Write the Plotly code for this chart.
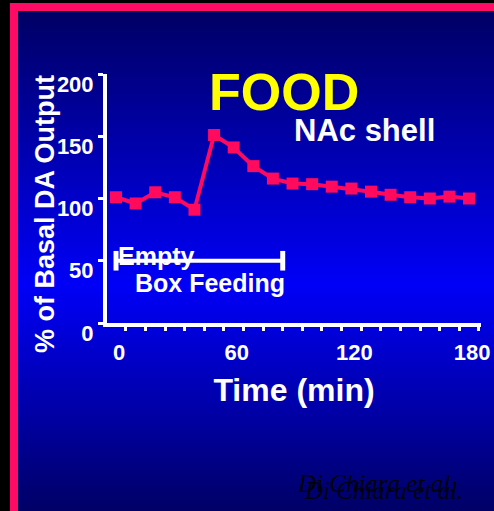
import plotly.graph_objects as go

# ---- data ----
time_min = [0, 10, 20, 30, 40, 50, 60, 70, 80, 90, 100, 110, 120, 130, 140, 150, 160, 170, 180]
da_output = [101, 96, 105, 101, 91, 151, 141, 126, 116, 112, 111.5, 109.5, 108, 105.5, 103, 101, 100, 101.5, 100]
feeding_x = [0, 85]
feeding_y = [50, 50]
x_tick_vals = [0, 60, 120, 180]
y_tick_vals = [0, 50, 100, 150, 200]

W, H = 494, 511
L, R, T, B = 107, 481, 74, 323


def px(x):
    return (x - L) / (R - L)


def py(y):
    return (B - y) / (B - T)


shapes = []
# gradient background (dark -> bright blue -> dark)
step = 3
for y0 in range(11, H, step):
    yc = y0 + step / 2
    if yc < 285:
        b = 100 + (yc - 11) / (285 - 11) * 148
    else:
        b = 248 - (yc - 285) / (H - 285) * 146
    b = int(max(0, min(255, b)))
    shapes.append(dict(type="rect", xref="paper", yref="paper", layer="below",
                       x0=px(18), x1=px(W + 2), y0=py(y0 + step + 0.5), y1=py(y0),
                       fillcolor="rgb(0,0,%d)" % b, line=dict(width=0)))
# pink frame
shapes.append(dict(type="rect", xref="paper", yref="paper", layer="below",
                   x0=px(10), x1=px(18), y0=py(H + 2), y1=py(3),
                   fillcolor="#ff0a64", line=dict(width=0)))
shapes.append(dict(type="rect", xref="paper", yref="paper", layer="below",
                   x0=px(10), x1=px(W + 2), y0=py(11), y1=py(3),
                   fillcolor="#ff0a64", line=dict(width=0)))

fig = go.Figure()
fig.add_trace(go.Scatter(
    x=feeding_x, y=feeding_y, mode="lines+markers",
    line=dict(color="white", width=4),
    marker=dict(symbol="line-ns", size=14, line=dict(color="white", width=5)),
    hoverinfo="skip", showlegend=False, cliponaxis=False))
fig.add_trace(go.Scatter(
    x=time_min, y=da_output, mode="lines+markers",
    line=dict(color="#ff0a5c", width=4),
    marker=dict(symbol="square", size=12, color="#ff0a5c"),
    showlegend=False, cliponaxis=False))

font_main = "Liberation Sans, Arial, sans-serif"
serif = "Liberation Serif, Times New Roman, serif"

annotations = [
    dict(text="FOOD", x=px(284), y=py(92), font=dict(size=52, color="#ffff00", family=font_main, weight="bold")),
    dict(text="NAc shell", x=px(364), y=py(130), font=dict(size=31, color="white", family=font_main, weight="bold")),
    dict(text="Empty", x=px(156), y=py(256), font=dict(size=25, color="white", family=font_main, weight="bold")),
    dict(text="Box Feeding", x=px(210), y=py(283), font=dict(size=25, color="white", family=font_main, weight="bold")),
    dict(text="% of Basal DA Output", x=px(45), y=py(214), textangle=-90,
         font=dict(size=27, color="white", family=font_main, weight="bold")),
    dict(text="<i>Di Chiara et al.</i>", x=px(376), y=py(483),
         font=dict(size=25, color="#000008", family=serif)),
    dict(text="<i>Di Chiara et al.</i>", x=px(383), y=py(490),
         font=dict(size=25, color="#000010", family=serif)),
]
for a in annotations:
    a.update(xref="paper", yref="paper", showarrow=False, xanchor="center", yanchor="middle")

fig.update_layout(
    width=W, height=H,
    margin=dict(l=L, r=W - R, t=T, b=H - B, autoexpand=False),
    paper_bgcolor="black", plot_bgcolor="rgba(0,0,0,0)",
    shapes=shapes, annotations=annotations,
    xaxis=dict(
        range=[-4.6, 186.1], tickvals=x_tick_vals, ticks="",
        showline=True, linecolor="white", linewidth=4, showgrid=False, zeroline=False,
        tickfont=dict(size=22, color="white", family=font_main, weight="bold"),
        ticklabelstandoff=7, ticklabelshift=3,
        minor=dict(tick0=5, dtick=10, ticks="outside", ticklen=4, tickwidth=3, tickcolor="white", showgrid=False),
        title=dict(text="Time (min)", font=dict(size=32, color="white", family=font_main, weight="bold"), standoff=15),
    ),
    yaxis=dict(
        range=[0, 200], tickvals=y_tick_vals, ticks="outside", ticklen=5, tickwidth=3, tickcolor="white",
        showline=True, linecolor="white", linewidth=4, showgrid=False, zeroline=False,
        tickfont=dict(size=22, color="white", family=font_main, weight="bold"),
        ticklabelshift=10, ticklabelstandoff=0,
    ),
)

fig.write_html("out.html", config={"displayModeBar": False},
               post_script="document.body.style.margin='0';document.body.style.overflow='hidden';")
